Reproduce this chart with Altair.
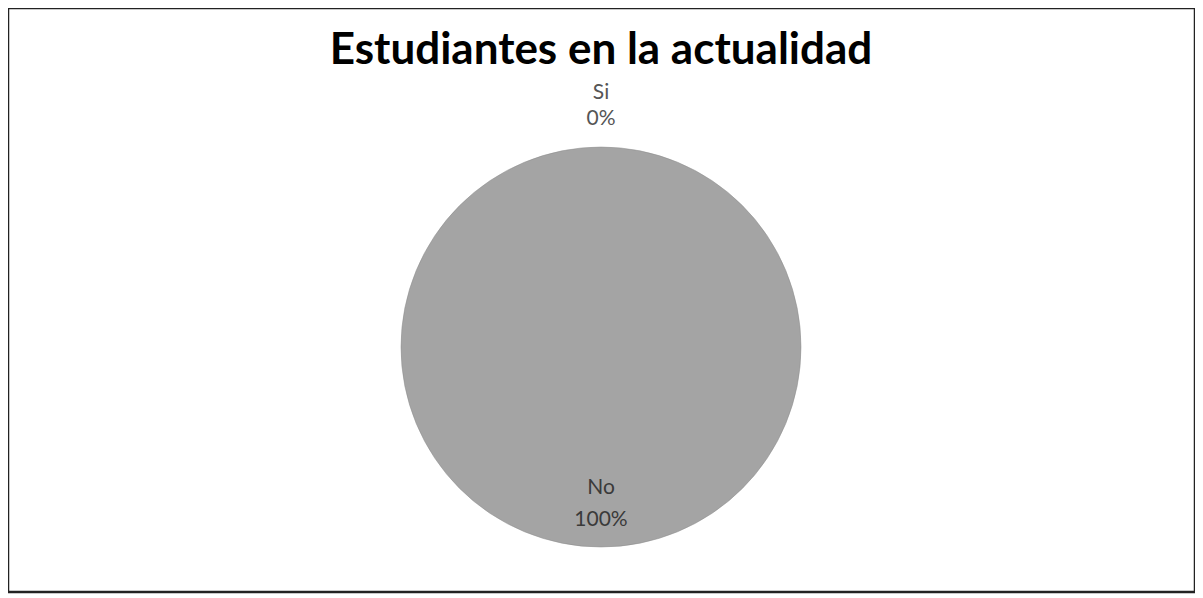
import altair as alt
import pandas as pd

categories = ["Si", "No"]
values = [0, 100]
title_text = "Estudiantes en la actualidad"

df = pd.DataFrame({"cat": categories, "val": values})

W, H = 1187, 584
CX, CY = 593, 339
R = 200

base = alt.Chart(df).transform_calculate(
    label="datum.cat + '\\n' + datum.val + '%'",
    idx="datum.cat == 'Si' ? 0 : 1",
)

pie = base.mark_arc(fill="#a4a4a4", stroke="#8a8a8a", strokeWidth=0.5).encode(
    theta=alt.Theta("val:Q", stack=True, scale=alt.Scale(domain=[0, 100])),
    order=alt.Order("idx:Q"),
    x=alt.value(CX), y=alt.value(CY), radius=alt.value(R),
)

def label_layer(cat, rad, lh, color):
    return base.mark_text(
        font="Lato", fontSize=21, lineBreak="\n", lineHeight=lh,
        baseline="middle", align="center", color=color,
    ).encode(
        theta=alt.Theta("val:Q", stack=True, scale=alt.Scale(domain=[0, 100])),
        order=alt.Order("idx:Q"),
        text="label:N",
        x=alt.value(CX), y=alt.value(CY), radius=alt.value(rad),
        opacity=alt.condition(alt.datum.cat == cat, alt.value(1), alt.value(0)),
    )

si_lbl = label_layer("Si", 254, 26, "#555555")
no_lbl = label_layer("No", 141, 32, "#3a3a3a")

title = alt.Chart(pd.DataFrame({"t": [title_text]})).mark_text(
    font="Lato", fontSize=44, fontWeight="bold", color="#000000",
    align="center", baseline="alphabetic",
).encode(text="t:N", x=alt.value(CX), y=alt.value(56))

chart = alt.layer(pie, si_lbl, no_lbl, title).properties(
    width=W, height=H, padding=0
).configure(background="white").configure_view(stroke="#222222", strokeWidth=2.5)

chart.save("out.html", embed_options={"renderer": "svg", "actions": False})
